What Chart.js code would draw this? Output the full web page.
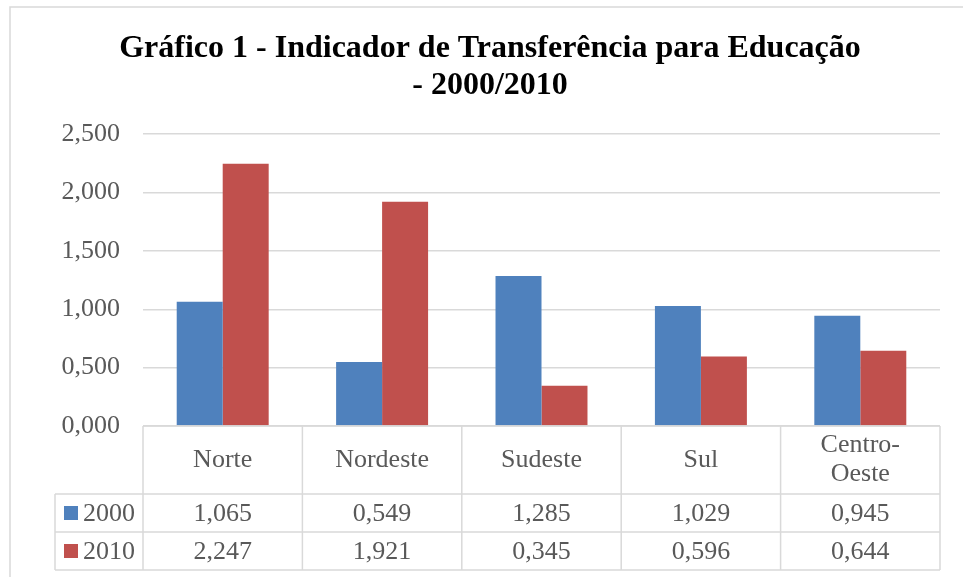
<!DOCTYPE html>
<html>
<head>
<meta charset="utf-8">
<script src="https://cdn.jsdelivr.net/npm/chart.js@4"></script>
<style>
  body { margin: 0; background: #fff; }
  #wrap { width: 963px; height: 577px; }
</style>
</head>
<body>
<div id="wrap"><canvas id="chart" width="963" height="577"></canvas></div>
<script>
  // chart data
  var categories = ["Norte", "Nordeste", "Sudeste", "Sul", ["Centro-", "Oeste"]];
  var seriesNames = ["2000", "2010"];
  var values2000 = [1.065, 0.549, 1.285, 1.029, 0.945];
  var values2010 = [2.247, 1.921, 0.345, 0.596, 0.644];
  var yMin = 0;
  var yMax = 2.5;
  var yStep = 0.5;

  var colors = ["#4F81BD", "#C0504D"];
  var gridColor = "#D9D9D9";
  var textColor = "#595959";
  var serif = '"Liberation Serif", "Times New Roman", serif';
  var textSize = 26;

  function fmt(v) {
    return v.toFixed(3).replace(".", ",");
  }

  // draws the outer frame and the data table under the plot
  var dataTablePlugin = {
    id: "dataTable",
    afterDraw: function (chart) {
      var ctx = chart.ctx;
      var area = chart.chartArea;
      var x = chart.scales.x;
      var top = area.bottom;
      var rowBottoms = [top + 68, top + 106, top + 144];
      var keyLeft = 55;
      var n = categories.length;

      var edges = [area.left];
      for (var i = 0; i < n - 1; i++) {
        edges.push((x.getPixelForValue(i) + x.getPixelForValue(i + 1)) / 2);
      }
      edges.push(area.right);

      ctx.save();
      ctx.strokeStyle = gridColor;
      ctx.lineWidth = 1.5;
      ctx.strokeRect(10, 7, 1000, 1000);

      ctx.beginPath();
      ctx.moveTo(area.left, top);
      ctx.lineTo(area.right, top);
      rowBottoms.forEach(function (y) {
        ctx.moveTo(keyLeft, y);
        ctx.lineTo(area.right, y);
      });
      edges.forEach(function (ex) {
        ctx.moveTo(ex, top);
        ctx.lineTo(ex, rowBottoms[2]);
      });
      ctx.moveTo(keyLeft, rowBottoms[0]);
      ctx.lineTo(keyLeft, rowBottoms[2]);
      ctx.stroke();

      ctx.fillStyle = textColor;
      ctx.font = textSize + "px " + serif;
      ctx.textAlign = "center";
      ctx.textBaseline = "middle";

      // header row with category names
      var headMid = (top + rowBottoms[0]) / 2;
      categories.forEach(function (label, i) {
        var cx = (edges[i] + edges[i + 1]) / 2;
        var lines = Array.isArray(label) ? label : [label];
        var lh = 29;
        lines.forEach(function (line, j) {
          ctx.fillText(line, cx, headMid + (j - (lines.length - 1) / 2) * lh);
        });
      });

      // value rows
      [values2000, values2010].forEach(function (vals, r) {
        var yTop = rowBottoms[r];
        var yMid = (yTop + rowBottoms[r + 1]) / 2;
        ctx.fillStyle = colors[r];
        ctx.fillRect(64, yMid - 7, 14, 14);
        ctx.fillStyle = textColor;
        ctx.textAlign = "left";
        ctx.fillText(seriesNames[r], 83, yMid + 1);
        ctx.textAlign = "center";
        vals.forEach(function (v, i) {
          ctx.fillText(fmt(v), (edges[i] + edges[i + 1]) / 2, yMid + 1);
        });
      });
      ctx.restore();
    },
  };

  var ctx = document.getElementById("chart").getContext("2d");
  new Chart(ctx, {
    type: "bar",
    data: {
      labels: categories,
      datasets: [
        {
          label: seriesNames[0],
          data: values2000,
          backgroundColor: colors[0],
        },
        {
          label: seriesNames[1],
          data: values2010,
          backgroundColor: colors[1],
        },
      ],
    },
    options: {
      responsive: false,
      animation: false,
      categoryPercentage: 0.577,
      barPercentage: 1.0,
      layout: {
        padding: { top: 30, left: 40, right: 23, bottom: 151 },
      },
      plugins: {
        legend: { display: false },
        tooltip: { enabled: false },
        title: {
          display: true,
          text: ["Gráfico 1 - Indicador de Transferência para Educação", "- 2000/2010"],
          color: "#000",
          font: { family: serif, size: 32, weight: "bold", lineHeight: 1.16 },
          padding: { top: 0, bottom: 30 },
        },
      },
      scales: {
        x: { display: false },
        y: {
          min: yMin,
          max: yMax,
          border: { display: false },
          grid: { color: gridColor, lineWidth: 1.5, drawTicks: false },
          ticks: {
            stepSize: yStep,
            padding: 23,
            color: textColor,
            font: { family: serif, size: textSize },
            callback: function (v) {
              return fmt(v);
            },
          },
          afterFit: function (scale) {
            scale.width = 103;
          },
        },
      },
    },
    plugins: [dataTablePlugin],
  });
</script>
</body>
</html>
